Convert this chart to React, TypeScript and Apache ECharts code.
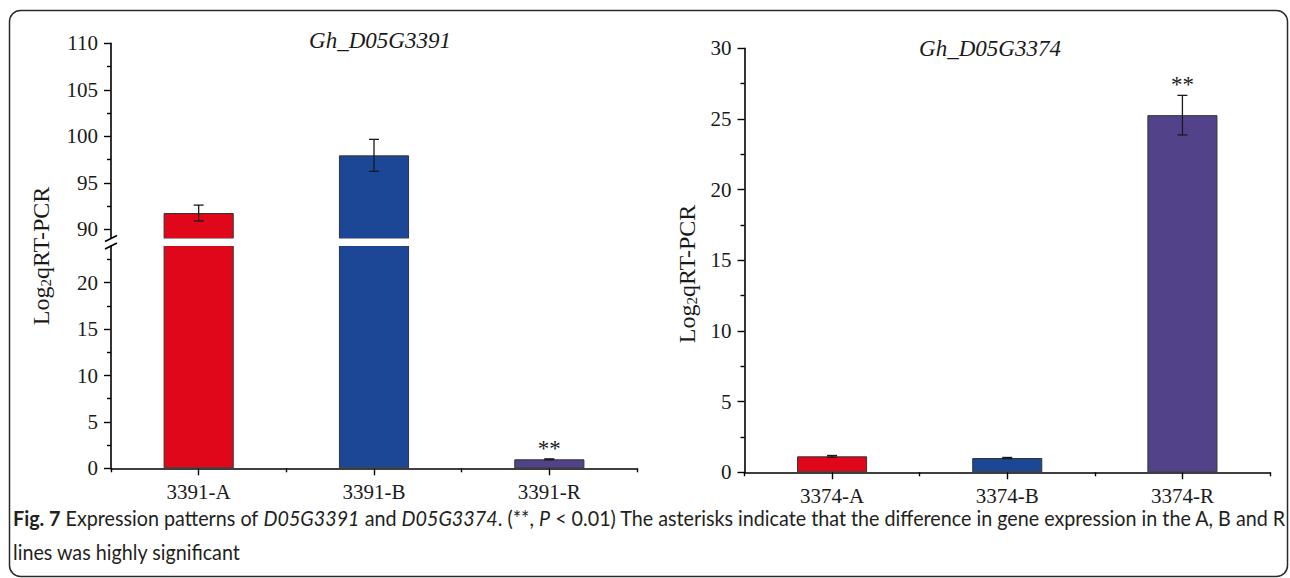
import React, { useEffect, useRef } from "react";
import * as echarts from "echarts";

// ---------- data ----------
const cats3391 = ["3391-A", "3391-B", "3391-R"];
const vals3391 = [91.75, 97.95, 0.97];
const errs3391 = [0.85, 1.72, 0.05];
const sig3391 = ["", "", "**"];

const cats3374 = ["3374-A", "3374-B", "3374-R"];
const vals3374 = [1.13, 1.01, 25.27];
const errs3374 = [0.06, 0.04, 1.4];
const sig3374 = ["", "", "**"];

const barColors = ["#E0071B", "#1B4796", "#52428A"];

// axis ticks
const upperTicks3391 = [90, 95, 100, 105, 110];
const upperMinor3391 = [92.5, 97.5, 102.5, 107.5];
const lowerTicks3391 = [0, 5, 10, 15, 20];
const lowerMinor3391 = [2.5, 7.5, 12.5, 17.5, 22.5];
const ticks3374 = [0, 5, 10, 15, 20, 25, 30];
const minor3374 = [2.5, 7.5, 12.5, 17.5, 22.5, 27.5];

// broken axis ranges for the left panel
const upperRange3391 = [89, 110];
const lowerRange3391 = [0, 24];
const range3374 = [0, 30];

const title3391 = "Gh_D05G3391";
const title3374 = "Gh_D05G3374";
const yName = "Log{s|2}qRT-PCR";
const caption1 =
  "{b|Fig. 7} Expression patterns of {i|D05G3391} and {i|D05G3374}. (**, {i|P} < 0.01) The asterisks indicate that the difference in gene expression in the A, B and R";
const caption2 = "lines was highly significant";

// ---------- styles ----------
const SERIF = "'Liberation Serif', 'Times New Roman', serif";
const SANS = "Lato, 'Open Sans', sans-serif";
const INK = "#1a1a1a";

function barData(vals: number[], keep: (v: number) => boolean) {
  return vals.map((v, i) =>
    keep(v) ? { value: v, itemStyle: { color: barColors[i] } } : "-"
  );
}

function errData(vals: number[], errs: number[], keep: (v: number) => boolean) {
  const out: any[] = [];
  vals.forEach((v, i) => {
    if (keep(v)) out.push([i, v, errs[i]]);
  });
  return out;
}

function errRender(sigs: string[]) {
  return (params: any, api: any) => {
    const i = api.value(0);
    const v = api.value(1);
    const e = api.value(2);
    const top = api.coord([i, v + e]);
    const bot = api.coord([i, v - e]);
    const x = top[0];
    const cap = 5;
    const st = { stroke: INK, lineWidth: 1.3 };
    const children: any[] = [
      { type: "line", shape: { x1: x, y1: top[1], x2: x, y2: bot[1] }, style: st },
      { type: "line", shape: { x1: x - cap, y1: top[1], x2: x + cap, y2: top[1] }, style: st },
      { type: "line", shape: { x1: x - cap, y1: bot[1], x2: x + cap, y2: bot[1] }, style: st },
    ];
    const s = sigs[i];
    if (s) {
      children.push({
        type: "text",
        style: {
          text: s,
          x: x,
          y: top[1] + 1,
          align: "center",
          verticalAlign: "bottom",
          font: `23px ${SERIF}`,
          fill: INK,
        },
      });
    }
    return { type: "group", children };
  };
}

function valueAxis(gridIndex: number, range: number[], labels: number[], show: boolean) {
  return {
    type: "value",
    gridIndex,
    position: "left",
    min: range[0],
    max: range[1],
    splitLine: { show: false },
    axisLine: show
      ? { show: true, onZero: false, lineStyle: { color: "#000", width: 1.6 } }
      : { show: false },
    axisTick: {
      show: true,
      customValues: labels,
      length: show ? 7 : 4,
      lineStyle: { color: "#000", width: 1.4 },
    },
    axisLabel: show
      ? {
          show: true,
          customValues: labels,
          margin: 13,
          fontFamily: SERIF,
          fontSize: 21,
          color: INK,
        }
      : { show: false },
  };
}

function catAxis(gridIndex: number, cats: string[], mode: "hidden" | "main" | "minor") {
  if (mode === "hidden") {
    return { type: "category", gridIndex, data: cats, show: false };
  }
  if (mode === "main") {
    return {
      type: "category",
      gridIndex,
      data: cats,
      position: "bottom",
      axisLine: { show: true, onZero: false, lineStyle: { color: "#000", width: 1.6 } },
      axisTick: { show: true, alignWithLabel: true, interval: 0, length: 7, lineStyle: { color: "#000", width: 1.4 } },
      axisLabel: { show: true, interval: 0, margin: 13, fontFamily: SERIF, fontSize: 21, color: INK },
    };
  }
  return {
    type: "category",
    gridIndex,
    data: cats,
    position: "bottom",
    axisLine: { show: false },
    axisTick: { show: true, alignWithLabel: false, interval: 0, length: 4, lineStyle: { color: "#000", width: 1.4 } },
    axisLabel: { show: false },
  };
}

const keepUpper = (v: number) => v >= upperRange3391[0];
const keepLower = (v: number) => v < lowerRange3391[1];
const keepAll = (_v: number) => true;

const barStyle = { borderColor: "#333", borderWidth: 1 };

const yNameStyle = {
  text: yName,
  font: `24px ${SERIF}`,
  fill: INK,
  align: "center",
  verticalAlign: "middle",
  lineHeight: 24,
  rich: { s: { fontSize: 15, fontFamily: SERIF, lineHeight: 4, verticalAlign: "bottom" } },
};

const option: any = {
  animation: false,
  backgroundColor: "#fff",
  grid: [
    { left: 111, width: 526, top: 43.3, height: 195.3 },
    { left: 111, width: 526, top: 245.6, height: 222.7 },
    { left: 744.5, width: 525.5, top: 48.3, height: 424 },
  ],
  xAxis: [
    catAxis(0, cats3391, "hidden"),
    catAxis(1, cats3391, "main"),
    catAxis(1, cats3391, "minor"),
    catAxis(2, cats3374, "main"),
    catAxis(2, cats3374, "minor"),
  ],
  yAxis: [
    valueAxis(0, upperRange3391, upperTicks3391, true),
    valueAxis(0, upperRange3391, upperMinor3391, false),
    valueAxis(1, lowerRange3391, lowerTicks3391, true),
    valueAxis(1, lowerRange3391, lowerMinor3391, false),
    valueAxis(2, range3374, ticks3374, true),
    valueAxis(2, range3374, minor3374, false),
  ],
  series: [
    {
      type: "bar",
      xAxisIndex: 0,
      yAxisIndex: 0,
      barWidth: "40%",
      clip: true,
      itemStyle: barStyle,
      data: barData(vals3391, keepUpper),
    },
    {
      type: "bar",
      xAxisIndex: 1,
      yAxisIndex: 2,
      barWidth: "40%",
      clip: true,
      itemStyle: barStyle,
      data: barData(vals3391, keepAll),
    },
    {
      type: "bar",
      xAxisIndex: 3,
      yAxisIndex: 4,
      barWidth: "40%",
      itemStyle: barStyle,
      data: barData(vals3374, keepAll),
    },
    {
      type: "custom",
      xAxisIndex: 0,
      yAxisIndex: 0,
      renderItem: errRender(sig3391),
      data: errData(vals3391, errs3391, keepUpper),
      z: 5,
    },
    {
      type: "custom",
      xAxisIndex: 1,
      yAxisIndex: 2,
      renderItem: errRender(sig3391),
      data: errData(vals3391, errs3391, keepLower),
      z: 5,
    },
    {
      type: "custom",
      xAxisIndex: 3,
      yAxisIndex: 4,
      renderItem: errRender(sig3374),
      data: errData(vals3374, errs3374, keepAll),
      z: 5,
    },
  ],
  graphic: [
    {
      type: "rect",
      shape: { x: 9.5, y: 10.5, width: 1278, height: 566, r: 11 },
      style: { fill: "none", stroke: "#2a2a2a", lineWidth: 1.5 },
      z: 100,
    },
    // white stripe of the axis break across the bars
    {
      type: "rect",
      shape: { x: 113, y: 238.4, width: 522, height: 7.6 },
      style: { fill: "#fff" },
      z: 99,
    },
    // axis break marks
    {
      type: "rect",
      shape: { x: 104, y: 238.6, width: 10, height: 7 },
      style: { fill: "#fff" },
      z: 100,
    },
    {
      type: "line",
      shape: { x1: 105, y1: 241.5, x2: 117, y2: 235.5 },
      style: { stroke: "#000", lineWidth: 1.6 },
      z: 101,
    },
    {
      type: "line",
      shape: { x1: 105, y1: 249, x2: 117, y2: 243 },
      style: { stroke: "#000", lineWidth: 1.6 },
      z: 101,
    },
    // titles
    {
      type: "text",
      x: 380,
      y: 40,
      style: { text: title3391, font: `italic 23px ${SERIF}`, fill: INK, align: "center", verticalAlign: "middle" },
    },
    {
      type: "text",
      x: 990,
      y: 48,
      style: { text: title3374, font: `italic 23px ${SERIF}`, fill: INK, align: "center", verticalAlign: "middle" },
    },
    // y axis names
    { type: "text", x: 41, y: 256, rotation: Math.PI / 2, style: yNameStyle },
    { type: "text", x: 687, y: 274, rotation: Math.PI / 2, style: yNameStyle },
    // caption
    {
      type: "text",
      x: 13,
      y: 518,
      scaleX: 0.94,
      style: {
        text: caption1,
        font: `21px ${SANS}`,
        fill: "#231f20",
        align: "left",
        verticalAlign: "middle",
        rich: {
          b: { fontWeight: "bold", fontFamily: SANS, fontSize: 21 },
          i: { fontStyle: "italic", fontFamily: SANS, fontSize: 21 },
        },
      },
    },
    {
      type: "text",
      x: 13,
      y: 552,
      scaleX: 0.94,
      style: {
        text: caption2,
        font: `21px ${SANS}`,
        fill: "#231f20",
        align: "left",
        verticalAlign: "middle",
      },
    },
  ],
};

export default function App() {
  const ref = useRef<HTMLDivElement>(null);
  useEffect(() => {
    if (!ref.current) return;
    const chart = echarts.init(ref.current, null, { renderer: "svg" });
    chart.setOption(option);
    return () => chart.dispose();
  }, []);
  return (
    <div
      ref={ref}
      style={{ position: "absolute", left: 0, top: 0, width: 1290, height: 578, background: "#fff" }}
    />
  );
}
